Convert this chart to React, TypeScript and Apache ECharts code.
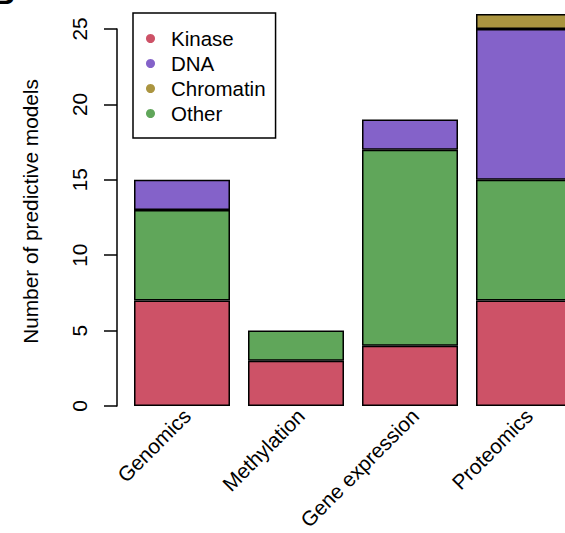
import React, { useEffect, useRef } from "react";
import * as echarts from "echarts";

// Predictive models per data type, split by target class
const categories = ["Genomics", "Methylation", "Gene expression", "Proteomics"];
const kinase = [7, 3, 4, 7];
const other = [6, 2, 13, 8];
const dna = [2, 0, 2, 10];
const chromatin = [0, 0, 0, 1];
const yTicks = [0, 5, 10, 15, 20, 25];

const legendOrder = ["Kinase", "DNA", "Chromatin", "Other"];
const colors: Record<string, string> = {
  Kinase: "#cd5267",
  DNA: "#8462c9",
  Chromatin: "#ab9540",
  Other: "#60a65a",
};

const FONT = "Liberation Sans, Arial, sans-serif";
const FS = 20.8;
const CHART_W = 600;
const VIEW_W = 565;
const VIEW_H = 533;

export default function App() {
  const ref = useRef<HTMLDivElement>(null);

  useEffect(() => {
    if (!ref.current) return;
    const chart = echarts.init(ref.current, undefined, { renderer: "svg" });

    // stacking order bottom to top
    const stack: [string, number[]][] = [
      ["Kinase", kinase],
      ["Other", other],
      ["DNA", dna],
      ["Chromatin", chromatin],
    ];

    chart.setOption({
      animation: false,
      textStyle: { fontFamily: FONT },
      graphic: [
        {
          type: "text",
          left: -7,
          top: -22,
          style: { text: "B", font: `bold 30px ${FONT}`, fill: "#000" },
        },
      ],
      legend: {
        data: legendOrder,
        orient: "vertical",
        left: 133,
        top: 13,
        icon: "circle",
        itemWidth: 9,
        itemHeight: 9,
        itemGap: 4,
        itemStyle: { borderWidth: 0 },
        padding: [15, 10, 14, 13],
        borderColor: "#000",
        borderWidth: 1.5,
        backgroundColor: "#fff",
        textStyle: {
          fontSize: 20.5,
          lineHeight: 21,
          color: "#000",
          fontFamily: FONT,
          padding: [0, 0, 0, 11],
        },
      },
      grid: [
        { left: 125, right: CHART_W - 581, top: 29, bottom: 127 },
        // label-only grid, nudged right so the rotated names end past the bar centres
        { left: 130, right: CHART_W - 586, top: 29, bottom: 127 },
      ],
      xAxis: [
        {
          type: "category",
          gridIndex: 0,
          data: categories,
          axisLine: { show: false },
          axisTick: { show: false },
          axisLabel: { show: false },
        },
        {
          type: "category",
          gridIndex: 1,
          data: categories,
          axisLine: { show: false },
          axisTick: { show: false },
          axisLabel: {
            rotate: 45,
            interval: 0,
            margin: 19,
            fontSize: FS,
            color: "#000",
            fontFamily: FONT,
          },
        },
      ],
      yAxis: [
        {
          type: "value",
          gridIndex: 0,
          min: yTicks[0],
          max: yTicks[yTicks.length - 1],
          interval: 5,
          offset: 8,
          name: "Number of predictive models",
          nameLocation: "middle",
          nameGap: 76,
          nameTextStyle: {
            fontSize: FS,
            color: "#000",
            fontFamily: FONT,
            padding: [0, 0, 0, 12],
          },
          splitLine: { show: false },
          axisLine: { show: true, lineStyle: { color: "#000", width: 1.5 } },
          axisTick: { show: true, length: 13, lineStyle: { color: "#000", width: 1.5 } },
          axisLabel: {
            rotate: 90,
            margin: 27,
            fontSize: FS,
            color: "#000",
            fontFamily: FONT,
          },
        },
        {
          type: "value",
          gridIndex: 1,
          show: false,
        },
      ],
      series: stack.map(([name, values]) => ({
        name,
        type: "bar",
        stack: "total",
        xAxisIndex: 0,
        yAxisIndex: 0,
        clip: false,
        barCategoryGap: "15.8%",
        itemStyle: {
          color: colors[name],
          borderColor: "#000",
          borderWidth: 1.5,
        },
        emphasis: { disabled: true },
        data: values.map((v) => (v === 0 ? null : v)),
      })),
    });

    return () => chart.dispose();
  }, []);

  return (
    <div
      style={{
        position: "absolute",
        left: 0,
        top: 0,
        width: VIEW_W,
        height: VIEW_H,
        overflow: "hidden",
        background: "#fff",
      }}
    >
      <div ref={ref} style={{ width: CHART_W, height: VIEW_H }} />
    </div>
  );
}
